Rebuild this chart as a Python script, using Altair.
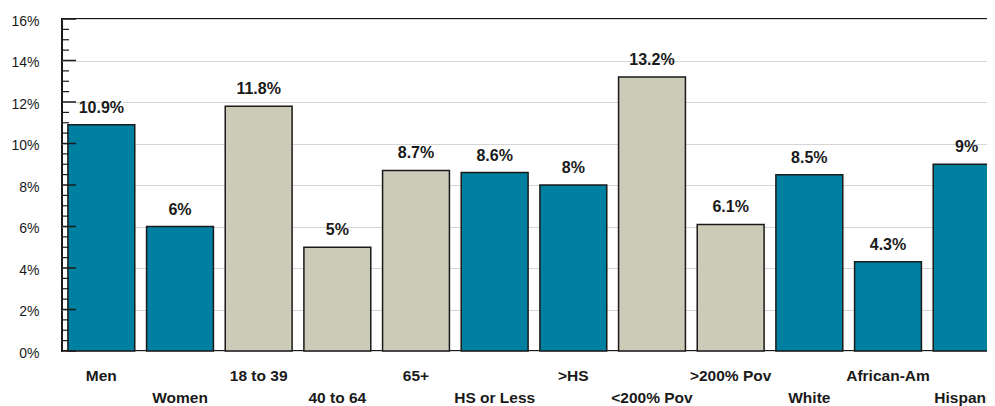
import altair as alt
import pandas as pd

categories = ["Men", "Women", "18 to 39", "40 to 64", "65+", "HS or Less", ">HS",
              "<200% Pov", ">200% Pov", "White", "African-Am", "Hispanic"]
values = [10.9, 6, 11.8, 5, 8.7, 8.6, 8, 13.2, 6.1, 8.5, 4.3, 9]
value_labels = ["10.9%", "6%", "11.8%", "5%", "8.7%", "8.6%", "8%", "13.2%", "6.1%",
                "8.5%", "4.3%", "9%"]
groups = ["Gender", "Gender", "Age", "Age", "Age", "Education", "Education",
          "Income", "Income", "Race", "Race", "Race"]
label_rows = ["upper", "lower"] * 6
group_domain = ["Gender", "Age", "Education", "Income", "Race"]
group_colors = ["#0080A0", "#CCCBB8", "#0080A0", "#CCCBB8", "#0080A0"]
major_ticks = [0, 2, 4, 6, 8, 10, 12, 14, 16]
minor_ticks = [0.5, 1, 1.5, 2.5, 3, 3.5, 4.5, 5, 5.5, 6.5, 7, 7.5, 8.5, 9, 9.5,
               10.5, 11, 11.5, 12.5, 13, 13.5, 14.5, 15, 15.5]
title_text = 'Can "Never" Trust the Broward County Government'

df = pd.DataFrame({"category": categories, "value": values, "label": value_labels,
                   "group": groups, "row": label_rows})

SANS = "Liberation Sans, Arial, sans-serif"
INK = "#1a1a1a"

yscale = alt.Scale(domain=[0, 16], nice=False)
yaxis = alt.Axis(values=major_ticks, labelExpr="datum.value + '%'", grid=True,
                 gridColor="#d6d6d6", gridWidth=1, ticks=False, tickSize=0,
                 domain=False, labelPadding=23, labelFont=SANS, labelFontSize=14,
                 labelColor=INK, labelOffset=2, title=None)
xenc = alt.X("category:N", sort=categories,
             scale=alt.Scale(paddingInner=0.15, paddingOuter=0.075), axis=None)

base = alt.Chart(df)

bars = base.mark_bar(stroke=INK, strokeWidth=1.5).encode(
    x=xenc,
    y=alt.Y("value:Q", scale=yscale, axis=yaxis),
    color=alt.Color("group:N", scale=alt.Scale(domain=group_domain, range=group_colors),
                    legend=None),
)

vlabels = base.mark_text(font=SANS, fontSize=16, fontWeight="bold",
                         baseline="alphabetic", dy=-12, color=INK).encode(
    x=xenc, y=alt.Y("value:Q", scale=yscale, axis=yaxis), text="label:N")

upper = base.transform_filter(alt.datum.row == "upper").mark_text(
    font=SANS, fontSize=15.5, fontWeight="bold", baseline="middle", dy=25,
    color=INK).encode(x=xenc, y=alt.YDatum(0), text="category:N")
lower = base.transform_filter(alt.datum.row == "lower").mark_text(
    font=SANS, fontSize=15.5, fontWeight="bold", baseline="middle", dy=47,
    color=INK).encode(x=xenc, y=alt.YDatum(0), text="category:N")

major = alt.Chart(pd.DataFrame({"t": major_ticks})).mark_rule(
    color=INK, strokeWidth=1.5).encode(
    y=alt.Y("t:Q", scale=yscale, axis=yaxis), x=alt.value(0), x2=alt.value(14))
minor = alt.Chart(pd.DataFrame({"t": minor_ticks})).mark_rule(
    color=INK, strokeWidth=1.2).encode(
    y=alt.Y("t:Q", scale=yscale, axis=yaxis), x=alt.value(0), x2=alt.value(7))

chart = alt.layer(bars, vlabels, upper, lower, major, minor).properties(
    width=944, height=332,
    autosize=alt.AutoSizeParams(type="none"),
    padding={"left": 54, "top": 11, "right": -19, "bottom": 55},
    title=alt.TitleParams(text=title_text, font=SANS, fontSize=37.5, fontWeight="bold",
                          anchor="middle", baseline="alphabetic", offset=8, dx=6,
                          color=INK),
).configure_view(stroke=INK, strokeWidth=2)

chart.save("out.html", embed_options={"renderer": "svg", "actions": False})
